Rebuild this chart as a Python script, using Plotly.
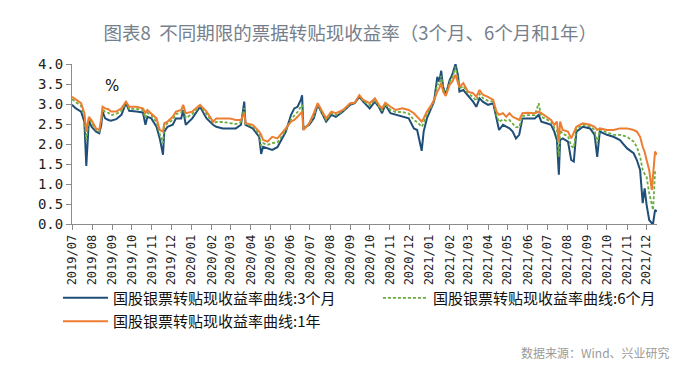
import plotly.graph_objects as go

dates = [
    "2019-07-01", "2019-07-07", "2019-07-15", "2019-07-20", "2019-07-23", "2019-07-27", "2019-07-31",
    "2019-08-07", "2019-08-12", "2019-08-15", "2019-08-17", "2019-08-21", "2019-08-26", "2019-08-30",
    "2019-09-07", "2019-09-15", "2019-09-22", "2019-09-27",
    "2019-10-08", "2019-10-18", "2019-10-22", "2019-10-25", "2019-10-31",
    "2019-11-08", "2019-11-13", "2019-11-18", "2019-11-20", "2019-11-25",
    "2019-12-03", "2019-12-08", "2019-12-16", "2019-12-19", "2019-12-23",
    "2020-01-02", "2020-01-14", "2020-01-24",
    "2020-02-03", "2020-02-08", "2020-02-18", "2020-02-28",
    "2020-03-09", "2020-03-17", "2020-03-22", "2020-03-24",
    "2020-04-04", "2020-04-14", "2020-04-17", "2020-04-20", "2020-04-27",
    "2020-05-04", "2020-05-12", "2020-05-17", "2020-05-25",
    "2020-06-02", "2020-06-07", "2020-06-12", "2020-06-17", "2020-06-19", "2020-06-21", "2020-06-30",
    "2020-07-07", "2020-07-13", "2020-07-20", "2020-07-26",
    "2020-08-03", "2020-08-10", "2020-08-21",
    "2020-09-01", "2020-09-08", "2020-09-15", "2020-09-21",
    "2020-10-01", "2020-10-09", "2020-10-15", "2020-10-20", "2020-10-25",
    "2020-11-02", "2020-11-10", "2020-11-20", "2020-11-30",
    "2020-12-08", "2020-12-13", "2020-12-20", "2020-12-23", "2020-12-28",
    "2021-01-04", "2021-01-08", "2021-01-13", "2021-01-16", "2021-01-19", "2021-01-22", "2021-01-26",
    "2021-02-01", "2021-02-05", "2021-02-10", "2021-02-14", "2021-02-16", "2021-02-22",
    "2021-03-01", "2021-03-09", "2021-03-14", "2021-03-19", "2021-03-24",
    "2021-04-01", "2021-04-09", "2021-04-14", "2021-04-18", "2021-04-24", "2021-04-29",
    "2021-05-04", "2021-05-09", "2021-05-14", "2021-05-19", "2021-05-24",
    "2021-06-01", "2021-06-12", "2021-06-18", "2021-06-22", "2021-06-30",
    "2021-07-07", "2021-07-12", "2021-07-16", "2021-07-19", "2021-07-21", "2021-07-25",
    "2021-08-02", "2021-08-07", "2021-08-11", "2021-08-15", "2021-08-25",
    "2021-09-05", "2021-09-12", "2021-09-16", "2021-09-20",
    "2021-10-01", "2021-10-11", "2021-10-21",
    "2021-11-01", "2021-11-11", "2021-11-16", "2021-11-21", "2021-11-25", "2021-11-28",
    "2021-12-01", "2021-12-05", "2021-12-09", "2021-12-11", "2021-12-14", "2021-12-17",
]

rate_3m = [
    2.98, 2.89, 2.81, 2.56, 1.45, 2.60, 2.43,
    2.31, 2.27, 2.47, 2.81, 2.64, 2.60, 2.58,
    2.62, 2.73, 3.02, 2.83,
    2.81, 2.79, 2.48, 2.68, 2.64,
    2.43, 2.14, 1.73, 2.31, 2.43,
    2.48, 2.64, 2.64, 2.85, 2.48,
    2.64, 2.93, 2.64,
    2.48, 2.43, 2.39, 2.39,
    2.39, 2.48, 3.06, 2.48,
    2.39, 2.18, 1.75, 1.93, 1.89,
    1.85, 1.92, 2.06, 2.31,
    2.73, 2.89, 2.93, 3.10, 3.22, 2.39, 2.48,
    2.64, 2.98, 2.73, 2.56,
    2.73, 2.68, 2.81,
    2.98, 3.02, 3.18, 3.06,
    2.89, 3.06, 2.93, 2.77, 2.98,
    2.77, 2.73, 2.68, 2.64,
    2.39, 2.35, 1.83, 2.31, 2.64,
    2.89, 3.06, 3.68, 3.56, 3.83, 3.43, 3.23,
    3.60, 3.73, 4.00, 3.70, 3.31, 3.35,
    3.22, 3.06, 2.93, 3.14, 3.06,
    2.98, 3.02, 2.64, 2.35, 2.48, 2.43,
    2.39, 2.31, 2.14, 2.23, 2.64,
    2.64, 2.64, 2.73, 2.56, 2.52,
    2.48, 2.31, 2.10, 1.23, 2.10, 2.14,
    2.06, 1.60, 1.56, 2.31, 2.43,
    2.39, 2.23, 1.68, 2.31,
    2.23, 2.18, 2.10,
    1.89, 1.77, 1.60, 1.35, 0.52, 0.89,
    0.48, 0.10, 0.02, 0.02, 0.35, 0.31,
]

rate_6m = [
    3.12, 3.05, 2.95, 2.70, 2.10, 2.65, 2.53,
    2.35, 2.31, 2.58, 2.88, 2.80, 2.78, 2.72,
    2.75, 2.83, 3.04, 2.88,
    2.88, 2.85, 2.65, 2.78, 2.72,
    2.55, 2.25, 2.02, 2.45, 2.52,
    2.60, 2.75, 2.78, 2.92, 2.65,
    2.75, 2.95, 2.75,
    2.52, 2.55, 2.55, 2.52,
    2.50, 2.55, 2.90, 2.50,
    2.44, 2.25, 1.95, 2.02, 1.98,
    2.02, 2.04, 2.15, 2.35,
    2.62, 2.72, 2.80, 2.93, 2.98, 2.37, 2.50,
    2.70, 3.00, 2.77, 2.60,
    2.77, 2.72, 2.83,
    3.00, 3.03, 3.20, 3.08,
    2.97, 3.10, 2.95, 2.83, 3.00,
    2.85, 2.80, 2.80, 2.76,
    2.60, 2.55, 2.43, 2.52, 2.75,
    2.93, 3.08, 3.50, 3.48, 3.70, 3.38, 3.22,
    3.55, 3.65, 3.93, 3.60, 3.38, 3.45,
    3.27, 3.17, 3.08, 3.25, 3.15,
    3.08, 3.06, 2.72, 2.55, 2.62, 2.58,
    2.60, 2.50, 2.42, 2.42, 2.70,
    2.72, 2.72, 3.02, 2.68, 2.62,
    2.55, 2.40, 2.35, 1.68, 2.35, 2.25,
    2.20, 1.95, 1.90, 2.38, 2.48,
    2.44, 2.35, 2.02, 2.36,
    2.29, 2.23, 2.23,
    2.18, 2.06, 1.93, 1.68, 1.35, 1.25,
    1.18, 0.77, 0.43, 0.35, 1.31, 1.27,
]

rate_1y = [
    3.18, 3.12, 3.02, 2.77, 2.31, 2.68, 2.60,
    2.39, 2.35, 2.64, 2.93, 2.89, 2.87, 2.81,
    2.81, 2.89, 3.06, 2.93,
    2.93, 2.89, 2.78, 2.85, 2.77,
    2.64, 2.35, 2.31, 2.52, 2.56,
    2.68, 2.81, 2.85, 2.98, 2.77,
    2.81, 2.98, 2.81,
    2.56, 2.64, 2.64, 2.64,
    2.60, 2.60, 2.77, 2.52,
    2.48, 2.31, 2.23, 2.10, 2.06,
    2.18, 2.14, 2.23, 2.39,
    2.56, 2.60, 2.68, 2.77, 2.81, 2.35, 2.52,
    2.77, 3.02, 2.81, 2.64,
    2.81, 2.77, 2.85,
    3.02, 3.03, 3.22, 3.10,
    3.02, 3.14, 2.98, 2.89, 3.03,
    2.93, 2.85, 2.89, 2.85,
    2.77, 2.68, 2.56, 2.64, 2.81,
    2.98, 3.10, 3.31, 3.39, 3.52, 3.31, 3.20,
    3.48, 3.56, 3.73, 3.52, 3.43, 3.52,
    3.31, 3.27, 3.18, 3.35, 3.23,
    3.18, 3.10, 2.81, 2.73, 2.77, 2.68,
    2.77, 2.68, 2.64, 2.60, 2.77,
    2.78, 2.77, 2.81, 2.77, 2.68,
    2.60, 2.48, 2.56, 2.06, 2.56, 2.35,
    2.31, 2.14, 2.27, 2.43, 2.52,
    2.48, 2.43, 2.35, 2.39,
    2.35, 2.35, 2.39,
    2.39, 2.35, 2.31, 2.18, 1.93, 1.80,
    1.60, 1.35, 0.85, 1.27, 1.81, 1.73,
]

series_names = [
    "国股银票转贴现收益率曲线:3个月",
    "国股银票转贴现收益率曲线:6个月",
    "国股银票转贴现收益率曲线:1年",
]
y_ticks = [0.0, 0.5, 1.0, 1.5, 2.0, 2.5, 3.0, 3.5, 4.0]

title_text = "图表8  不同期限的票据转贴现收益率（3个月、6个月和1年）"
source_text = "数据来源：Wind、兴业研究"

fig = go.Figure()
fig.add_trace(go.Scatter(x=dates, y=rate_3m, name=series_names[0], mode="lines",
                         legend="legend", legendgroup="a",
                         line=dict(color="#1f4e79", width=2)))
fig.add_trace(go.Scatter(x=dates, y=rate_6m, name=series_names[1], mode="lines",
                         legend="legend2", legendgroup="b",
                         line=dict(color="#6aad3f", width=1.8, dash="3px,2px")))
fig.add_trace(go.Scatter(x=dates, y=rate_1y, name=series_names[2], mode="lines",
                         legend="legend", legendgroup="c",
                         line=dict(color="#ed7d31", width=2)))

legend_font = dict(family="Noto Sans CJK SC", size=15, color="#111111")

fig.update_layout(
    width=700, height=369,
    margin=dict(l=64, r=51, t=56, b=153),
    paper_bgcolor="white", plot_bgcolor="white",
    title=dict(text=title_text, x=0.489, xanchor="center", y=0.932, yanchor="middle",
               font=dict(family="Noto Sans CJK SC", size=18.5, color="#76808c")),
    showlegend=True,
    legend=dict(orientation="v", x=-0.024, xanchor="left", y=-0.36, yanchor="top",
                itemwidth=45, font=legend_font, tracegroupgap=1,
                bgcolor="rgba(0,0,0,0)"),
    legend2=dict(orientation="v", x=0.523, xanchor="left", y=-0.36, yanchor="top",
                 itemwidth=45, font=legend_font, tracegroupgap=1,
                 bgcolor="rgba(0,0,0,0)"),
    annotations=[
        dict(text="%", xref="paper", yref="paper", x=0.053, y=0.93, showarrow=False,
             font=dict(family="DejaVu Sans", size=15, color="#111111")),
        dict(text=source_text, xref="paper", yref="paper", x=1.026, y=-0.8, xanchor="right",
             yanchor="middle", showarrow=False,
             font=dict(family="Noto Sans CJK SC", size=12, color="#9a9a9a")),
    ],
)

fig.update_xaxes(
    type="date", range=["2019-07-01", "2021-12-17"],
    tick0="2019-07-01", dtick="M1", tickformat="%Y/%m", tickangle=-90,
    showgrid=False, zeroline=False,
    showline=True, linecolor="#8c8c8c", linewidth=1,
    ticks="outside", ticklen=5, tickcolor="#8c8c8c",
    tickfont=dict(family="DejaVu Sans Mono", size=12, color="#222222"),
)
fig.update_yaxes(
    range=[0, 4.0], tickvals=y_ticks, ticktext=[f"{v:.1f}" for v in y_ticks],
    showgrid=False, zeroline=False,
    showline=True, linecolor="#8c8c8c", linewidth=1,
    ticks="outside", ticklen=5, tickcolor="#8c8c8c",
    tickfont=dict(family="DejaVu Sans Mono", size=14, color="#222222"),
)

fig.write_html("out.html")
